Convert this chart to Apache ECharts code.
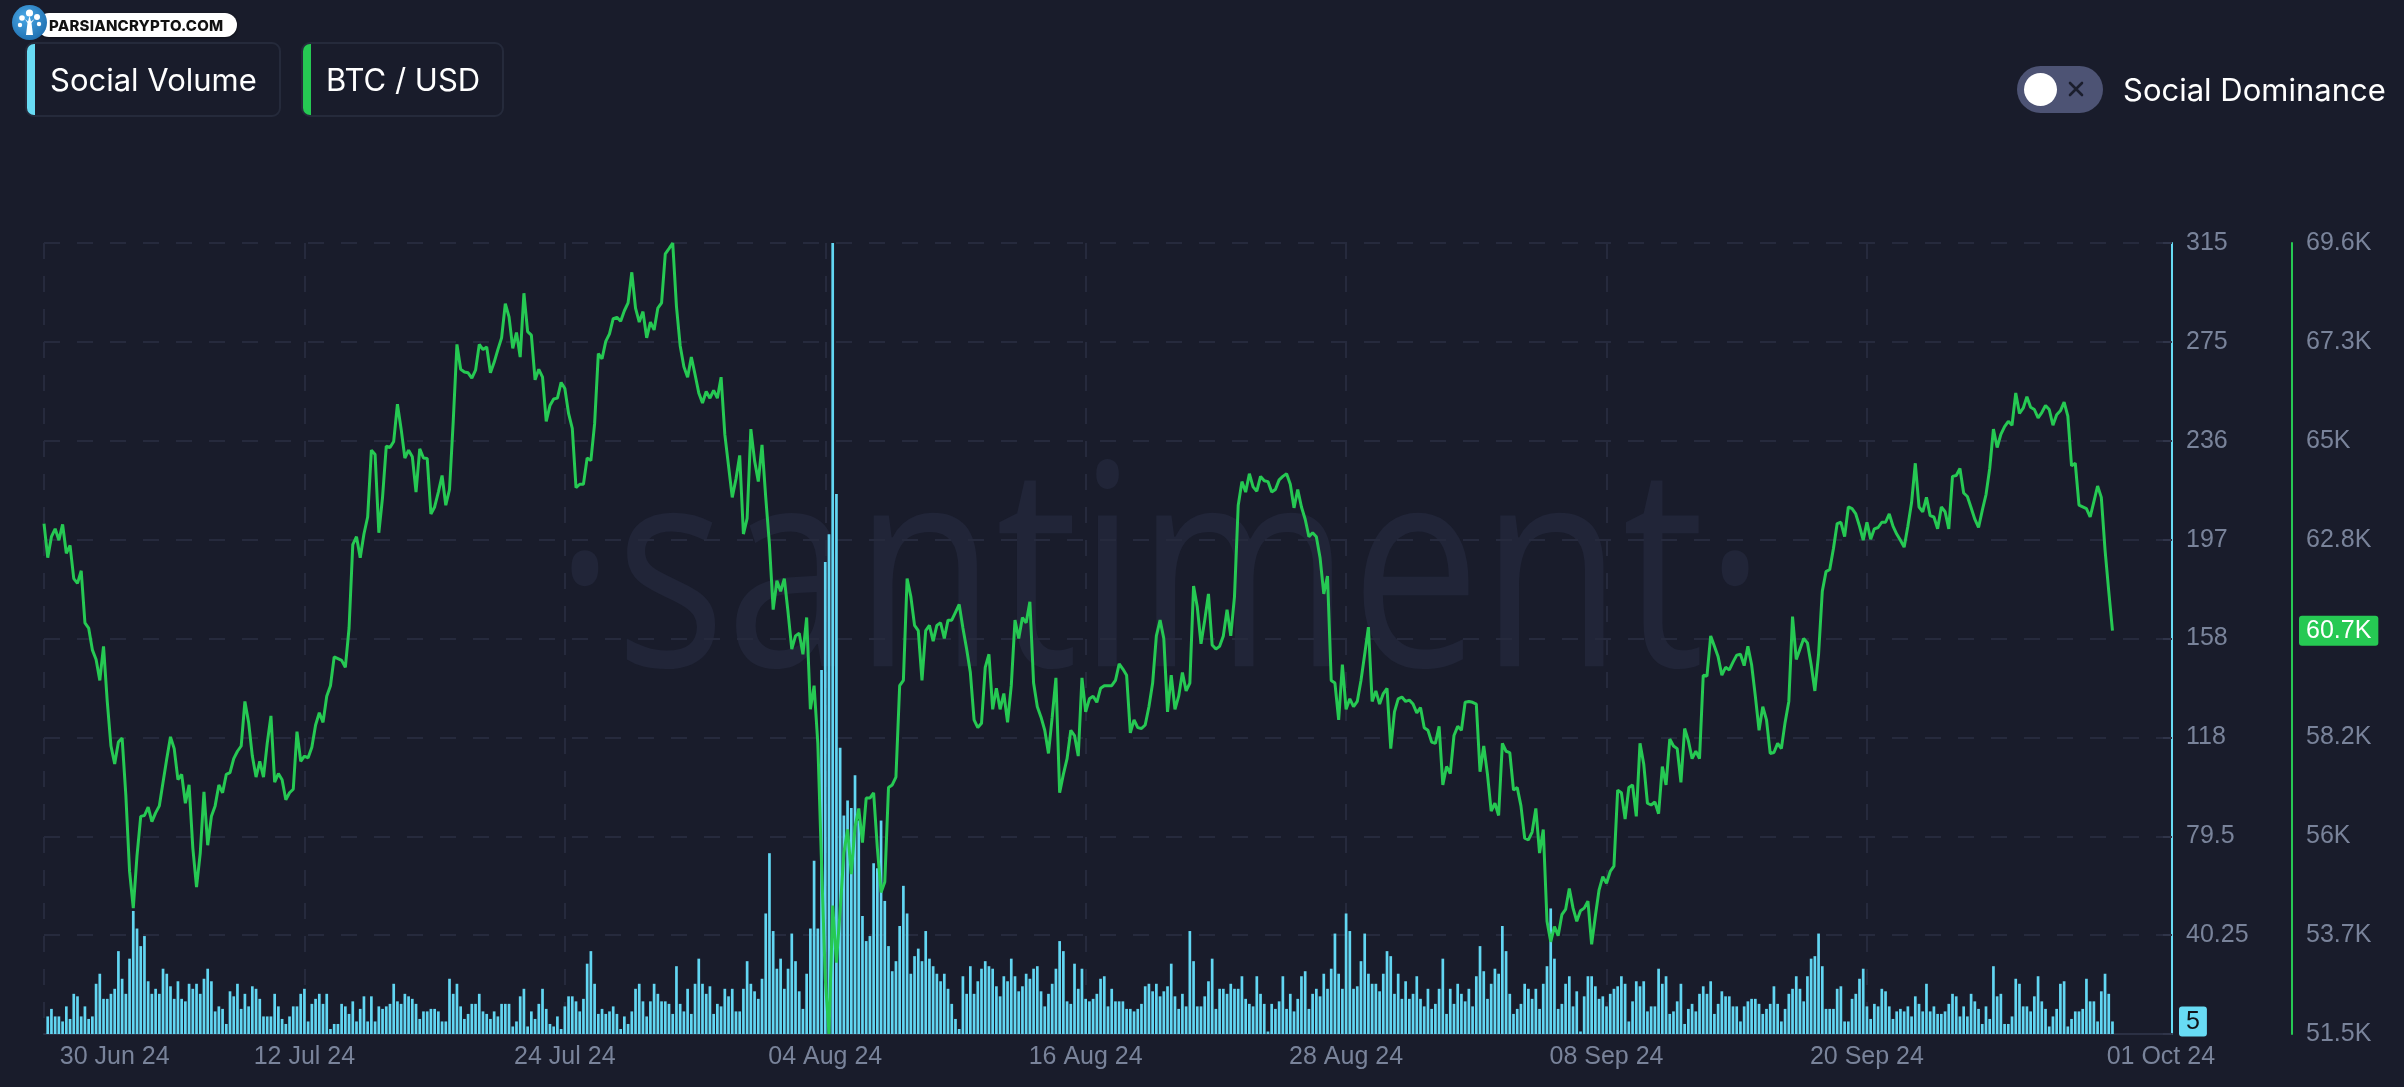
<!DOCTYPE html>
<html>
<head>
<meta charset="utf-8">
<script src="https://cdn.jsdelivr.net/npm/echarts@6.0.0/dist/echarts.min.js"></script>
<style>
html,body{margin:0;padding:0;background:#191c2b;width:2404px;height:1087px;overflow:hidden;}
#chart{position:absolute;left:0;top:0;width:2404px;height:1087px;}
.legend{position:absolute;top:42px;height:75px;box-sizing:border-box;border:2px solid #252a3b;border-radius:9px;
  font-family:Inter,"Noto Sans",sans-serif;font-size:31px;color:#ffffff;overflow:hidden;z-index:5;}
.legend .stripe{position:absolute;left:-2px;top:-2px;bottom:-2px;width:10px;border-radius:9px 0 0 9px;}
.legend .txt{position:absolute;top:0;bottom:0;display:flex;align-items:center;white-space:nowrap;}
#toggle{position:absolute;left:2017px;top:66px;width:86px;height:47px;border-radius:24px;background:#4d5374;z-index:5;}
#knob{position:absolute;left:7px;top:7px;width:33px;height:33px;border-radius:50%;background:#ffffff;}
#xmark{position:absolute;left:50px;top:14px;width:18px;height:18px;}
#domLabel{position:absolute;left:2123px;top:66px;height:47px;display:flex;align-items:center;font-family:Inter,"Noto Sans",sans-serif;font-size:31px;color:#fff;z-index:5;white-space:nowrap;}
#logo{position:absolute;left:0;top:0;z-index:6;}
#logo .pill{position:absolute;left:37px;top:13px;width:200px;height:24px;border-radius:12px;background:#fff;
  box-shadow:0 1px 3px rgba(0,0,0,.5);font-family:Inter,"Liberation Sans",sans-serif;font-weight:800;font-size:15px;color:#111;
  display:flex;align-items:center;padding-left:12px;box-sizing:border-box;letter-spacing:0.2px;}
#logo svg{position:absolute;left:11px;top:4px;}
</style>
</head>
<body>
<div id="chart"></div>

<div id="logo">
  <div class="pill">PARSIANCRYPTO.COM</div>
  <svg width="37" height="37" viewBox="0 0 37 37">
    <defs><radialGradient id="lg" cx="40%" cy="35%" r="70%"><stop offset="0%" stop-color="#4aa8e6"/><stop offset="100%" stop-color="#1f6fb0"/></radialGradient></defs>
    <circle cx="18.5" cy="18.5" r="17.5" fill="url(#lg)"/>
    <circle cx="18.5" cy="9" r="3.6" fill="#fff"/>
    <circle cx="11" cy="14" r="2.8" fill="#fff"/>
    <circle cx="26" cy="13" r="3" fill="#fff"/>
    <circle cx="9" cy="21" r="2.2" fill="#fff"/>
    <circle cx="28" cy="20" r="2.2" fill="#fff"/>
    <path d="M15 31 L16.5 19 L14 15 L17 17.5 L18.5 12 L20 17.5 L23.5 15 L20.5 19 L22 31 Z" fill="#fff"/>
  </svg>
</div>

<div class="legend" style="left:25px;width:256px;">
  <div class="stripe" style="background:#68dbf4"></div>
  <div class="txt" style="left:23px;">Social Volume</div>
</div>
<div class="legend" style="left:301px;width:203px;">
  <div class="stripe" style="background:#26c953"></div>
  <div class="txt" style="left:23px;">BTC / USD</div>
</div>

<div id="toggle">
  <div id="knob"></div>
  <svg id="xmark" viewBox="0 0 18 18"><path d="M3 3 L15 15 M15 3 L3 15" stroke="#1b1e2d" stroke-width="2.6" stroke-linecap="round"/></svg>
</div>
<div id="domLabel">Social Dominance</div>

<script>
// ---------------- data ----------------
const xTickLabels = ['30 Jun 24','12 Jul 24','24 Jul 24','04 Aug 24','16 Aug 24','28 Aug 24','08 Sep 24','20 Sep 24','01 Oct 24'];
const volumeTickLabels = ['', '40.25', '79.5', '118', '158', '197', '236', '275', '315'];
const priceTickLabels = ['51.5K', '53.7K', '56K', '58.2K', '60.5K', '62.8K', '65K', '67.3K', '69.6K'];

// Social volume, 4-hour buckets
const socialVolume = [
null,7,10,7,7,5,11,6,16,15,
7,11,6,7,20,24,14,14,16,18,
33,22,16,30,49,42,35,39,21,16,
18,16,26,24,19,14,21,14,13,20,
18,20,16,22,26,21,9,11,10,4,
17,15,20,10,16,11,19,18,14,7,
7,7,16,11,6,4,7,11,11,16,
18,5,12,14,16,12,16,2,4,4,
12,11,8,13,5,10,15,5,15,5,
11,10,11,12,20,13,12,16,15,14,
12,6,9,9,10,10,9,5,5,22,
16,20,11,6,8,12,12,16,9,8,
6,9,7,12,12,12,3,5,15,18,
3,9,6,12,18,10,4,3,7,2,
11,15,15,13,9,14,28,33,20,8,
10,8,9,11,8,2,7,4,9,18,
20,13,7,13,20,16,13,13,12,8,
27,12,9,18,8,20,30,20,16,19,
8,12,11,18,15,18,9,9,18,29,
20,17,14,22,48,72,41,26,30,18,
26,40,29,17,10,24,42,69,42,145,
188,199,315,215,114,87,93,90,103,85,
47,37,39,68,66,85,53,35,25,29,
43,59,48,24,31,34,29,41,30,27,
24,21,24,18,12,6,2,23,16,27,
16,21,26,29,27,26,19,15,23,21,
30,23,17,19,24,22,26,27,17,11,
16,20,26,37,33,13,12,28,18,26,
14,13,14,16,22,23,11,18,13,13,
13,10,10,9,10,12,19,20,17,20,
15,17,19,28,15,10,16,11,41,29,
11,11,15,21,30,10,18,18,16,20,
18,18,23,14,12,11,23,16,12,1,
12,10,13,23,10,16,9,14,23,25,
10,16,18,15,24,18,26,40,24,18,
48,41,18,19,29,40,24,20,20,17,
24,33,31,16,24,14,21,14,16,23,
14,11,18,10,12,18,30,8,18,12,
20,16,13,18,11,23,35,25,14,20,
26,24,43,33,16,8,10,12,20,18,
14,18,10,20,27,50,30,10,12,20,
23,11,17,1,15,23,23,19,14,15,
11,16,18,19,23,20,5,13,21,19,
21,9,11,11,26,20,23,8,9,13,
20,4,10,12,9,16,19,16,21,8,
12,17,15,15,11,11,5,11,13,14,
14,12,8,10,12,19,12,5,10,16,
18,23,18,13,23,30,31,40,27,10,
10,10,18,19,5,5,14,16,22,26,
11,6,12,11,18,17,11,6,9,10,
9,11,7,15,12,9,20,9,11,8,
8,9,12,16,15,7,11,7,16,13,
10,4,11,6,27,15,16,4,4,7,
22,20,11,11,9,15,23,13,10,3,
7,10,20,21,3,6,9,9,10,22,
13,13,5,17,24,16,5
];

// BTC / USD price, 4-hour buckets
const btcUsd = [
63130,62350,62830,63010,62750,63110,62450,62630,61870,61760,
62050,60860,60740,60240,60020,59540,60320,59060,58040,57630,
58130,58220,56910,55170,54330,55530,56430,56450,56640,56310,
56510,56670,57210,57750,58250,57980,57270,57390,56730,57150,
55710,54810,55590,56990,55770,56430,56670,57150,56970,57390,
57430,57750,57920,58040,59060,58580,57810,57330,57690,57330,
58100,58730,57210,57410,57270,56810,56970,57050,58370,57690,
57810,57770,58010,58520,58800,58580,59180,59420,60080,60040,
60000,59840,60740,62650,62830,62350,62890,63280,64810,64710,
62920,63730,64900,64870,65010,65860,65290,64630,64810,64660,
63850,64840,64630,64620,63350,63510,63850,64230,63550,63910,
65470,67230,66660,66600,66580,66460,66640,67230,67110,67170,
66580,66820,67110,67380,68160,67860,67140,67500,66940,68400,
67520,67440,66420,66660,66480,65470,65830,65980,66000,66360,
66220,65650,65310,63950,64030,64030,64630,64570,65410,67020,
66900,67300,67470,67820,67850,67760,68000,68180,68880,68060,
67740,67980,67380,67740,67560,68060,68180,69300,69420,69550,
68100,67200,66720,66480,66940,66540,66120,65890,66150,66000,
66180,66000,66480,65170,64450,63730,64150,64690,62890,63250,
65290,64570,64090,64930,63730,62650,61160,61820,61580,61870,
61100,60260,60560,60620,60140,60980,58880,59420,58100,55350,
52720,51450,54390,53080,54270,55590,56130,55110,56190,56610,
55830,56850,56850,56970,55710,54690,54930,57090,57150,57330,
59420,59540,61870,61460,60800,60680,59540,60680,60800,60440,
60800,60860,60500,60920,60920,61100,61280,60740,60260,59720,
58640,58460,58560,59840,60140,58880,59360,58880,59240,58580,
59420,60920,60500,60980,60860,61340,59480,58940,58700,58400,
57870,58700,59600,56970,57390,57750,58400,58280,57810,59600,
58820,59120,59180,59040,59360,59420,59420,59420,59540,59920,
59800,59660,58340,58640,58460,58440,58520,58940,59480,60560,
60920,60500,58820,59660,58880,59180,59720,59300,59480,61700,
61220,60380,60920,61520,60350,60260,60320,60560,61160,60560,
61460,63550,64090,63850,64270,63970,63870,64210,64110,64090,
63850,63910,64130,64210,64270,64030,63490,63910,63510,63230,
62830,62920,62830,62350,61520,61930,59540,59480,58640,59900,
58880,59120,58940,59060,59540,60140,60760,59060,59300,59000,
59240,59360,57980,58820,59120,59160,59060,59090,59000,58800,
58920,58460,58400,58130,58100,58490,57150,57570,57410,58280,
58490,58400,59040,59060,59040,59000,57450,58040,57390,56550,
56730,56450,58100,57920,57890,57030,57090,56670,55930,55890,
56070,56610,55590,56130,54030,53560,53910,53700,54180,54300,
54780,54330,54030,54270,54330,54490,53500,54150,54750,55050,
54900,55170,55290,57030,56970,56370,57090,57150,56430,58100,
57630,56730,56690,56760,56490,57570,57150,58200,58040,57980,
57210,58440,58160,57750,57920,57750,59660,59640,60560,60320,
60080,59660,59840,59780,59960,60120,60140,59880,60320,59900,
59180,58400,58940,58640,57870,57890,58100,57980,58580,59060,
61000,60020,60260,60500,60400,59900,59300,60140,61580,62030,
62080,62560,63130,63160,62830,63510,63470,63350,63070,62750,
63160,62770,63010,63040,63160,63160,63350,63070,62890,62750,
62590,63070,63610,64510,63510,63400,63730,63310,63280,63010,
63510,63400,63010,64210,64230,64390,63830,63750,63490,63230,
63040,63430,63790,64390,65290,64870,65170,65350,65470,65380,
66120,65650,65770,66030,65790,65740,65550,65670,65830,65740,
65380,65620,65710,65910,65590,64450,64510,63550,63510,63470,
63280,63630,63990,63730,62530,61580,60680
];

// ---------------- axis setup ----------------
const STEP_MS = 4 * 3600 * 1000;
const START = Date.UTC(2024, 5, 29, 20);
const SLOTS = 573;               // data buckets + empty right padding
const categories = [];
for (let i = 0; i < SLOTS; i++) categories.push(new Date(START + i * STEP_MS).toISOString());

const GRID_STEP = 70;            // buckets between vertical grid lines
const labelAt = new Map();
xTickLabels.forEach((t, k) => {
  let idx = k * GRID_STEP;
  if (k === 0) idx = 19;
  if (k === xTickLabels.length - 1) idx = 569;
  labelAt.set(categories[idx], t);
});

const VOL_MIN = 0, VOL_MAX = 315, PRICE_MIN = 51450, PRICE_MAX = 69550;
const volInterval = (VOL_MAX - VOL_MIN) / 8;
const priceInterval = (PRICE_MAX - PRICE_MIN) / 8;

const lastVol = socialVolume[socialVolume.length - 1];
const lastPrice = btcUsd[btcUsd.length - 1];

const axisFont = '"Liberation Sans", Arial, sans-serif';
const labelColor = '#79839a';

const chart = echarts.init(document.getElementById('chart'), null, {renderer: 'canvas'});
chart.setOption({
  animation: false,
  backgroundColor: 'transparent',
  grid: {left: 44, right: 232, top: 243, bottom: 53, containLabel: false},
  axisPointer: {triggerOn: 'none'},
  graphic: [{
    type: 'text', x: 1160, y: 586, scaleX: 0.82, z: -10, silent: true,
    style: {text: '\u00B7santiment\u00B7', font: '400 282px "Open Sans"', fill: '#212538', align: 'center', verticalAlign: 'middle'}
  }],
  xAxis: {
    type: 'category', data: categories, boundaryGap: false,
    axisLine: {show: true, lineStyle: {color: '#2b3044', width: 2}},
    axisTick: {show: false},
    axisLabel: {
      interval: (i, v) => labelAt.has(v),
      formatter: (v) => labelAt.get(v) || '',
      color: labelColor, fontSize: 25, fontFamily: axisFont, margin: 11, hideOverlap: false
    },
    splitLine: {
      show: true,
      interval: (i) => i % GRID_STEP === 0 && i <= GRID_STEP * 7,
      lineStyle: {color: '#262a3d', width: 2, type: [16, 17]}
    }
  },
  yAxis: [{
    type: 'value', position: 'right', min: VOL_MIN, max: VOL_MAX, interval: volInterval,
    axisLine: {show: true, lineStyle: {color: '#68dbf4', width: 2}},
    axisTick: {show: true, inside: true, length: 9, lineStyle: {color: '#30354a', width: 2}},
    axisLabel: {
      color: labelColor, fontSize: 25, fontFamily: axisFont, margin: 14,
      formatter: (v) => volumeTickLabels[Math.round((v - VOL_MIN) / volInterval)] || ''
    },
    splitLine: {show: true, lineStyle: {color: '#262a3d', width: 2, type: [16, 17]}},
    axisPointer: {
      show: true, type: 'line', value: lastVol, status: 'show', triggerTooltip: false,
      lineStyle: {opacity: 0},
      label: {show: true, backgroundColor: '#68dbf4', color: '#111418', fontSize: 25, fontFamily: axisFont,
        padding: [3, 7, 2, 7], margin: 7, formatter: (p) => String(Math.round(p.value))}
    }
  }, {
    type: 'value', position: 'right', offset: 120, min: PRICE_MIN, max: PRICE_MAX, interval: priceInterval,
    axisLine: {show: true, lineStyle: {color: '#26c953', width: 2}},
    axisTick: {show: false},
    axisLabel: {
      color: labelColor, fontSize: 25, fontFamily: axisFont, margin: 14,
      formatter: (v) => priceTickLabels[Math.round((v - PRICE_MIN) / priceInterval)] || ''
    },
    splitLine: {show: false},
    axisPointer: {
      show: true, type: 'line', value: lastPrice, status: 'show', triggerTooltip: false,
      lineStyle: {opacity: 0},
      label: {show: true, backgroundColor: '#26c953', color: '#ffffff', fontSize: 25, fontFamily: axisFont,
        padding: [3, 7, 2, 7], margin: 7, formatter: (p) => (p.value / 1000).toFixed(1) + 'K'}
    }
  }],
  series: [{
    name: 'Social Volume', type: 'bar', yAxisIndex: 0, data: socialVolume,
    barWidth: 2.7, itemStyle: {color: '#62d6f2'}, silent: true
  }, {
    name: 'BTC / USD', type: 'line', yAxisIndex: 1, data: btcUsd,
    showSymbol: false, symbol: 'none', silent: true,
    lineStyle: {color: '#26c953', width: 3}, z: 3
  }]
});
</script>
</body>
</html>
